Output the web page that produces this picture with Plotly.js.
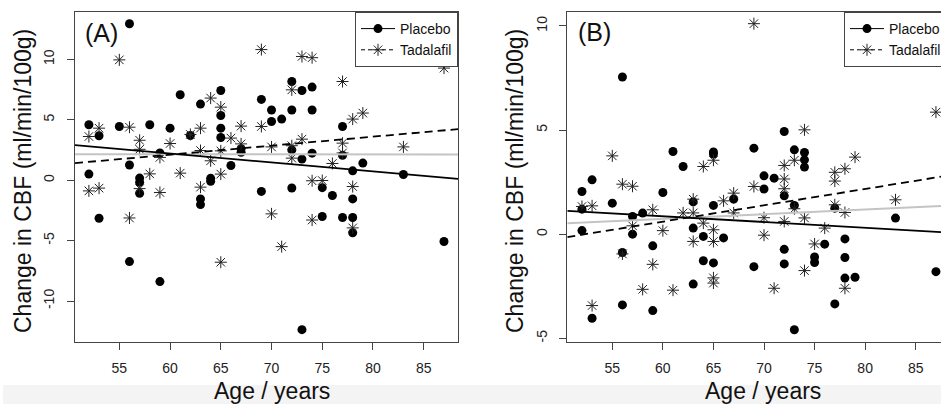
<!DOCTYPE html>
<html>
<head>
<meta charset="utf-8">
<script src="https://cdn.plot.ly/plotly-3.0.1.min.js"></script>
<style>html,body{margin:0;padding:0;background:#fff;}#chart{width:941px;height:404px;}</style>
</head>
<body>
<div id="chart"></div>
<script>
// ---- Data ----
// Panel A
var ageA_placebo = [52,52,53,53,55,56,56,56,57,57,57,58,59,59,60,61,62,63,63,63,64,64,65,65,65,65,66,67,67,69,69,70,70,71,72,72,72,72,73,73,73,74,74,74,75,75,76,77,77,77,78,78,78,78,79,83,87];
var cbfA_placebo = [4.58,0.5,3.67,-3.15,4.44,12.94,1.25,-6.74,0.17,-0.18,-1.08,4.58,2.25,-8.39,4.3,7.06,3.69,6.29,-1.55,-2.02,0.15,-0.1,7.42,5.35,4.3,3.53,1.21,2.6,2.3,6.68,-0.93,5.8,4.85,5.05,8.16,5.8,2.5,-0.65,7.42,1.74,-12.37,7.7,5.8,2.23,-0.62,-3.01,-1.27,4.44,2.05,-3.09,0.77,-1.55,-3.09,-4.35,1.41,0.47,-5.08];
var ageA_tadalafil = [52,52,53,53,55,56,56,57,57,57,58,59,59,60,61,62,63,63,63,64,64,65,65,65,65,66,67,67,69,69,70,70,71,72,72,72,73,73,74,74,74,75,76,77,77,77,78,78,78,79,83,87];
var cbfA_tadalafil = [3.61,-0.89,4.3,-0.66,9.95,4.38,-3.13,3.3,2.55,-0.7,0.52,1.88,-1.02,3.03,0.58,3.78,4.3,2.45,-0.58,6.79,1.6,6.04,2.42,0.5,-6.79,3.48,4.47,3.0,10.8,4.44,2.75,-2.79,-5.5,7.47,2.85,1.82,10.23,3.39,10.13,-0.05,-3.3,-0.03,1.38,8.16,3.06,2.25,5.05,-0.53,-3.95,5.55,2.75,9.27];
// Panel B
var ageB_placebo = [52,52,52,53,53,55,56,56,56,57,57,58,59,59,60,61,62,63,63,63,64,64,65,65,65,65,66,67,69,69,70,70,71,72,72,72,72,73,73,73,74,74,74,75,75,76,77,77,78,78,78,79,83,87];
var cbfB_placebo = [2.05,1.2,0.17,2.61,-4.04,1.49,7.55,-0.88,-3.4,0.85,0.0,1.01,-0.56,-3.67,2.0,3.97,3.25,1.55,0.29,-2.4,-0.11,-1.28,3.95,3.85,1.38,-1.38,-0.18,1.68,4.13,-1.56,2.8,2.17,2.69,4.93,1.84,-0.73,-1.43,4.05,1.38,-4.59,3.92,3.57,3.22,-1.1,-1.36,-0.48,1.25,-3.35,-0.23,-1.12,-2.11,-2.07,0.77,-1.8];
var ageB_tadalafil = [52,53,53,55,56,56,57,57,58,59,59,60,61,62,63,63,63,64,64,65,65,65,65,65,66,67,67,69,69,70,70,71,72,72,72,72,73,73,74,74,74,75,76,77,77,77,78,78,78,79,83,87];
var cbfB_tadalafil = [1.33,1.36,-3.43,3.76,2.4,-0.95,2.3,0.4,-2.65,1.17,-1.45,0.17,-2.69,1.02,1.68,1.02,-0.35,3.25,0.53,3.55,0.21,-0.35,-2.1,-2.35,1.6,1.97,1.02,10.11,2.29,0.79,-0.05,-2.6,3.3,2.65,2.18,0.61,3.55,1.22,5.01,0.78,-1.75,-0.47,0.29,2.97,2.55,1.41,3.14,1.04,-2.6,3.7,1.65,5.86];
// Fitted lines (end points)
var fitA_x = [50.63, 88.38];
var fitA_placebo = [2.9, 0.1];
var fitA_tadalafil = [1.41, 4.22];
var fitA_overall = [2.15, 2.12];
var fitB_x = [50.55, 87.5];
var fitB_placebo = [1.12, 0.1];
var fitB_tadalafil = [-0.14, 2.76];
var fitB_overall = [0.52, 1.35];
// Tick labels
var xTickVals = [55,60,65,70,75,80,85];
var xTickText = ['55','60','65','70','75','80','85'];
var yTickValsA = [-10,-5,0,5,10];
var yTickTextA = ['-10','-5','0','5','10'];
var yTickValsB = [-5,0,5,10];
var yTickTextB = ['-5','0','5','10'];
var seriesNames = ['Placebo','Tadalafil'];

// ---- Chart ----
var W = 941, H = 404;
var FONT = 'Liberation Sans, Arial, Helvetica, sans-serif';
var px = function(v){return v/W;};
var py = function(v){return (H-v)/H;};

var dotMarker = {symbol:'circle', size:9, color:'#000', line:{width:0}};
var starMarker = {symbol:'asterisk-open', size:10, color:'#222', line:{width:1, color:'#222'}};

function pts(x,y,xa,ya,m){return {type:'scatter',mode:'markers',x:x,y:y,xaxis:xa,yaxis:ya,marker:m,showlegend:false,hoverinfo:'x+y'};}
function ln(x,y,xa,ya,l){return {type:'scatter',mode:'lines',x:x,y:y,xaxis:xa,yaxis:ya,line:l,showlegend:false,hoverinfo:'skip'};}

var solid = {color:'#000', width:1.8};
var dashed = {color:'#000', width:1.8, dash:'8px,5px'};
var grey = {color:'#c4c4c4', width:2};

var traces = [
  pts(ageA_placebo, cbfA_placebo, 'x','y', dotMarker),
  pts(ageA_tadalafil, cbfA_tadalafil, 'x','y', starMarker),
  ln(fitA_x, fitA_overall, 'x','y', grey),
  ln(fitA_x, fitA_placebo, 'x','y', solid),
  ln(fitA_x, fitA_tadalafil, 'x','y', dashed),
  pts(ageB_placebo, cbfB_placebo, 'x2','y2', dotMarker),
  pts(ageB_tadalafil, cbfB_tadalafil, 'x2','y2', starMarker),
  ln(fitB_x, fitB_overall, 'x2','y2', grey),
  ln(fitB_x, fitB_placebo, 'x2','y2', solid),
  ln(fitB_x, fitB_tadalafil, 'x2','y2', dashed)
];
// legend entries
[['legend','x','y'],['legend2','x2','y2']].forEach(function(L){
  traces.push({type:'scatter',mode:'lines+markers',x:[null],y:[null],xaxis:L[1],yaxis:L[2],name:seriesNames[0],legend:L[0],
    marker:dotMarker,line:{color:'#000',width:1}});
  traces.push({type:'scatter',mode:'lines+markers',x:[null],y:[null],xaxis:L[1],yaxis:L[2],name:seriesNames[1],legend:L[0],
    marker:starMarker,line:{color:'#000',width:1,dash:'4px,3px'}});
});

var axCommon = {showgrid:false, zeroline:false, showline:true, linecolor:'#444', linewidth:1,
  ticks:'outside', ticklen:7, tickcolor:'#444', tickwidth:1, tickmode:'array',
  tickfont:{family:FONT, size:14, color:'#222'}, fixedrange:true};
function ax(extra){var o={};for(var k in axCommon)o[k]=axCommon[k];for(var k2 in extra)o[k2]=extra[k2];return o;}

var yDom = [py(342), py(12)];
function leg(extra){
  var o = {bgcolor:'#fff', bordercolor:'#444', borderwidth:1,
    font:{family:FONT,size:14,color:'#111'}, yanchor:'top', y:py(12), itemwidth:34, tracegroupgap:0};
  for(var k in extra)o[k]=extra[k]; return o;
}

var layout = {
  width:W, height:H, margin:{l:0,r:0,t:0,b:0,autoexpand:false},
  paper_bgcolor:'#fff', plot_bgcolor:'#fff', showlegend:true,
  font:{family:FONT, size:14, color:'#222'},
  xaxis: ax({domain:[px(75), px(458)], range:[50.63,88.38], tickvals:xTickVals, ticktext:xTickText, mirror:true, anchor:'y', ticklabelstandoff:6}),
  yaxis: ax({domain:yDom, range:[-13.39,13.91], tickvals:yTickValsA, ticktext:yTickTextA, tickangle:-90, mirror:true, anchor:'x', ticklabelstandoff:7}),
  xaxis2: ax({domain:[px(567.3), 1], range:[50.55,87.5], tickvals:xTickVals, ticktext:xTickText, mirror:true, anchor:'y2', ticklabelstandoff:6}),
  yaxis2: ax({domain:yDom, range:[-5.18,10.67], tickvals:yTickValsB, ticktext:yTickTextB, tickangle:-90, mirror:false, anchor:'x2', ticklabelstandoff:7}),
  legend: leg({x:px(458), xanchor:'right'}),
  legend2: leg({x:px(844), xanchor:'left'}),
  shapes:[{type:'rect', xref:'paper', yref:'paper', x0:px(3), x1:1, y0:0, y1:py(385), fillcolor:'#f4f4f4', line:{width:0}, layer:'below'}],
  annotations:[
    {text:'(A)', xref:'paper', yref:'paper', x:px(101), y:py(33), xanchor:'center', yanchor:'middle', showarrow:false, font:{family:FONT,size:25,color:'#111'}},
    {text:'(B)', xref:'paper', yref:'paper', x:px(594.5), y:py(32), xanchor:'center', yanchor:'middle', showarrow:false, font:{family:FONT,size:25,color:'#111'}},
    {text:'Age / years', xref:'paper', yref:'paper', x:px(271.7), y:py(391), xanchor:'center', yanchor:'middle', showarrow:false, font:{family:FONT,size:23,color:'#111'}},
    {text:'Age / years', xref:'paper', yref:'paper', x:px(763), y:py(391), xanchor:'center', yanchor:'middle', showarrow:false, font:{family:FONT,size:23,color:'#111'}},
    {text:'Change in CBF (ml/min/100g)', xref:'paper', yref:'paper', x:px(23), y:py(181), xanchor:'center', yanchor:'middle', textangle:-90, showarrow:false, font:{family:FONT,size:23,color:'#111'}},
    {text:'Change in CBF (ml/min/100g)', xref:'paper', yref:'paper', x:px(515), y:py(181), xanchor:'center', yanchor:'middle', textangle:-90, showarrow:false, font:{family:FONT,size:23,color:'#111'}}
  ]
};

Plotly.newPlot('chart', traces, layout, {displayModeBar:false, staticPlot:true});
</script>
</body>
</html>
